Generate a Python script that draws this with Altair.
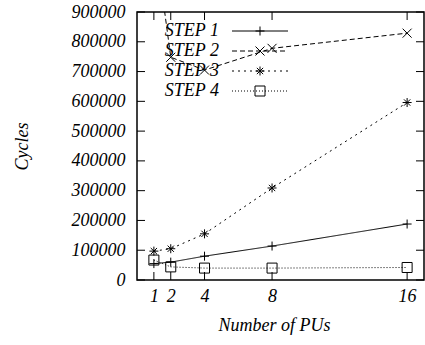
import altair as alt
import pandas as pd

# Processing units on the x axis and measured cycle counts per step
pus = [1, 2, 4, 8, 16]
step1 = [55000, 60000, 80000, 114000, 188000]
step2 = [1170000, 748000, 705000, 778000, 829000]
step3 = [97000, 105000, 155000, 309000, 596000]
step4 = [67000, 44000, 40000, 40000, 42000]

series_names = ["STEP 1", "STEP 2", "STEP 3", "STEP 4"]
series_values = [step1, step2, step3, step4]

y_ticks = [0, 100000, 200000, 300000, 400000, 500000, 600000, 700000, 800000, 900000]
x_ticks = [1, 2, 4, 8, 16]

W, H = 287, 268
FONT = "Times New Roman, Liberation Serif, serif"
TICK = 8

# line styles and point symbols for each step
dashes = [[1, 0], [5, 3], [2, 4], [1, 2]]
shapes = [
    "M-1,0L1,0M0,-1L0,1",
    "M-1,-1L1,1M-1,1L1,-1",
    "M-1,0L1,0M0,-1L0,1M-0.7,-0.7L0.7,0.7M-0.7,0.7L0.7,-0.7",
    "square",
]
sizes = [81, 81, 81, 100]

x_scale = alt.Scale(domain=[0, 17], nice=False, zero=False)
y_scale = alt.Scale(domain=[0, 900000], nice=False)

x_axis = alt.Axis(values=x_ticks, ticks=False, domain=False, grid=False, format="d",
                  labelPadding=7, labelFont=FONT, labelFontStyle="italic",
                  labelFontSize=18, labelColor="black", title="Number of PUs",
                  titleFont=FONT, titleFontStyle="italic", titleFontWeight="normal",
                  titleFontSize=18, titleColor="black", titlePadding=11, titleX=137)
y_axis = alt.Axis(values=y_ticks, ticks=False, domain=False, grid=False, format="d",
                  labelPadding=12, labelFont=FONT, labelFontStyle="italic",
                  labelFontSize=18, labelColor="black", title="Cycles",
                  titleFont=FONT, titleFontStyle="italic", titleFontWeight="normal",
                  titleFontSize=18, titleColor="black", titlePadding=40)


def X(field):
    return alt.X(field, scale=x_scale, axis=x_axis)


def Y(field):
    return alt.Y(field, scale=y_scale, axis=y_axis)


layers = []

yt = pd.DataFrame({"v": y_ticks})
xt = pd.DataFrame({"v": x_ticks})
tick_style = dict(color="black", strokeWidth=1)
# left and right ticks pointing inward
layers.append(alt.Chart(yt).mark_rule(**tick_style).encode(
    y=Y("v:Q"), x=alt.value(0), x2=alt.value(TICK)))
layers.append(alt.Chart(yt).mark_rule(**tick_style).encode(
    y=Y("v:Q"), x=alt.value(W - TICK), x2=alt.value(W)))
# bottom and top ticks pointing inward
layers.append(alt.Chart(xt).mark_rule(**tick_style).encode(
    x=X("v:Q"), y=alt.value(H - TICK), y2=alt.value(H)))
layers.append(alt.Chart(xt).mark_rule(**tick_style).encode(
    x=X("v:Q"), y=alt.value(0), y2=alt.value(TICK)))

# data series
for i, (name, vals) in enumerate(zip(series_names, series_values)):
    df = pd.DataFrame({"pus": pus, "cycles": vals})
    base = alt.Chart(df).encode(x=X("pus:Q"), y=Y("cycles:Q"))
    layers.append(base.mark_line(color="black", strokeWidth=1,
                                 strokeDash=dashes[i], clip=True))
    layers.append(base.mark_point(shape=shapes[i], size=sizes[i], color="black",
                                  filled=False, strokeWidth=1, opacity=1, clip=True))

# key, top left inside the plot
for i, name in enumerate(series_names):
    row_y = 19 + 20 * i
    kdf = pd.DataFrame({"label": [name]})
    layers.append(alt.Chart(kdf).mark_text(
        align="right", baseline="middle", font=FONT, fontStyle="italic",
        fontSize=18, color="black").encode(
        text="label:N", x=alt.value(82), y=alt.value(row_y)))
    layers.append(alt.Chart(kdf).mark_rule(
        color="black", strokeWidth=1, strokeDash=dashes[i]).encode(
        x=alt.value(95), x2=alt.value(151), y=alt.value(row_y)))
    layers.append(alt.Chart(kdf).mark_point(
        shape=shapes[i], size=sizes[i], color="black", filled=False,
        strokeWidth=1, opacity=1).encode(x=alt.value(123), y=alt.value(row_y)))

chart = alt.layer(*layers).properties(
    width=W, height=H,
    autosize=alt.AutoSizeParams(type="none"),
    padding={"left": 137, "top": 12, "right": 1, "bottom": 58},
    background="white",
).configure_view(stroke="black", strokeWidth=1.5)

chart.save("out.html", embed_options={"renderer": "svg", "actions": False})
